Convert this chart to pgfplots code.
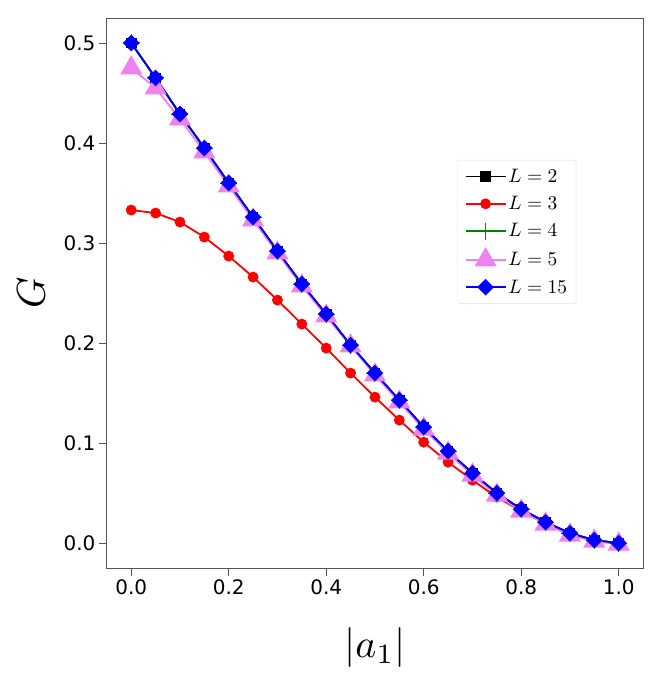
\documentclass[border=0pt]{standalone}
\usepackage{graphicx}
\usepackage{pgfplots}
\pgfplotsset{compat=1.18}
\usepackage{fontspec}
\setmainfont{DejaVu Sans}
\definecolor{spine}{HTML}{555555}
\definecolor{violetc}{HTML}{EE82EE}
\definecolor{greenc}{HTML}{008000}
\newcommand{\legtxt}[1]{\scalebox{1.95}{$#1$}}
\begin{document}
\begin{tikzpicture}
\begin{axis}[
  name=ax,
  scale only axis,
  width=537pt, height=551pt,
  xmin=-0.05, xmax=1.05, ymin=-0.025, ymax=0.525,
  xtick={0,0.2,...,1.0}, ytick={0,0.1,...,0.5},
  xticklabel style={/pgf/number format/.cd,fixed,fixed zerofill,precision=1},
  yticklabel style={/pgf/number format/.cd,fixed,fixed zerofill,precision=1},
  /pgf/number format/assume math mode=true,
  tick label style={font=\fontsize{20}{20}\selectfont, text=black},
  tick align=outside, tick pos=left,
  major tick length=8pt,
  every tick/.style={spine, line width=0.8pt},
  axis line style={spine, line width=0.8pt},
  xlabel={\scalebox{4}{$|a_1|$}}, ylabel={\scalebox{4}{$G$}},
  xlabel style={yshift=-26pt},
  ylabel style={yshift=12pt},
  legend style={at={(0.654,0.742)}, anchor=north west, draw=gray!25, rounded corners=2pt,
     row sep=8.5pt, inner xsep=7pt, inner ysep=7pt},
  legend cell align=left,
  legend image code/.code={\draw[line width=1.8pt, mark repeat=2,mark phase=2] plot coordinates {(0pt,0pt) (20pt,0pt) (40pt,0pt)};},
]
\addplot[black, line width=1.8pt, mark=square*, mark size=4.5pt] coordinates {
(0,0.500)(0.05,0.465)(0.1,0.429)(0.15,0.395)(0.2,0.360)(0.25,0.326)(0.3,0.292)(0.35,0.259)(0.4,0.229)(0.45,0.198)(0.5,0.170)(0.55,0.143)(0.6,0.116)(0.65,0.092)(0.7,0.070)(0.75,0.050)(0.8,0.034)(0.85,0.021)(0.9,0.010)(0.95,0.003)(1.0,0.000)};
\addlegendentry{\legtxt{L=2}}
\addplot[red, line width=1.8pt, mark=*, mark size=4.5pt] coordinates {
(0,0.333)(0.05,0.330)(0.1,0.321)(0.15,0.306)(0.2,0.287)(0.25,0.266)(0.3,0.243)(0.35,0.219)(0.4,0.195)(0.45,0.170)(0.5,0.146)(0.55,0.123)(0.6,0.101)(0.65,0.081)(0.7,0.063)(0.75,0.046)(0.8,0.032)(0.85,0.020)(0.9,0.010)(0.95,0.003)(1.0,0.000)};
\addlegendentry{\legtxt{L=3}}
\addplot[greenc, line width=1.8pt, mark=+, mark size=8.5pt, mark options={line width=1pt}] coordinates {
(0,0.500)(0.05,0.465)(0.1,0.429)(0.15,0.395)(0.2,0.360)(0.25,0.326)(0.3,0.292)(0.35,0.259)(0.4,0.229)(0.45,0.198)(0.5,0.170)(0.55,0.143)(0.6,0.116)(0.65,0.092)(0.7,0.070)(0.75,0.050)(0.8,0.034)(0.85,0.021)(0.9,0.010)(0.95,0.003)(1.0,0.000)};
\addlegendentry{\legtxt{L=4}}
\addplot[violetc, line width=1.8pt, mark=triangle*, mark size=11pt] coordinates {
(0,0.475)(0.05,0.455)(0.1,0.424)(0.15,0.391)(0.2,0.357)(0.25,0.323)(0.3,0.290)(0.35,0.257)(0.4,0.227)(0.45,0.197)(0.5,0.168)(0.55,0.141)(0.6,0.114)(0.65,0.090)(0.7,0.068)(0.75,0.048)(0.8,0.032)(0.85,0.019)(0.9,0.008)(0.95,0.002)(1.0,-0.001)};
\addlegendentry{\legtxt{L=5}}
\addplot[blue, line width=1.8pt, mark=square*, mark size=5pt, mark options={rotate=45}] coordinates {
(0,0.500)(0.05,0.465)(0.1,0.429)(0.15,0.395)(0.2,0.360)(0.25,0.326)(0.3,0.292)(0.35,0.259)(0.4,0.229)(0.45,0.198)(0.5,0.170)(0.55,0.143)(0.6,0.116)(0.65,0.092)(0.7,0.070)(0.75,0.050)(0.8,0.034)(0.85,0.021)(0.9,0.010)(0.95,0.003)(1.0,0.000)};
\addlegendentry{\legtxt{L=15}}
\end{axis}
\pgfresetboundingbox
\path (ax.south west) ++(-107pt,-116pt) coordinate (bl);
\path (ax.north east) ++(20pt,18pt) coordinate (tr);
\path[use as bounding box] (bl) rectangle (tr);
\end{tikzpicture}
\end{document}
